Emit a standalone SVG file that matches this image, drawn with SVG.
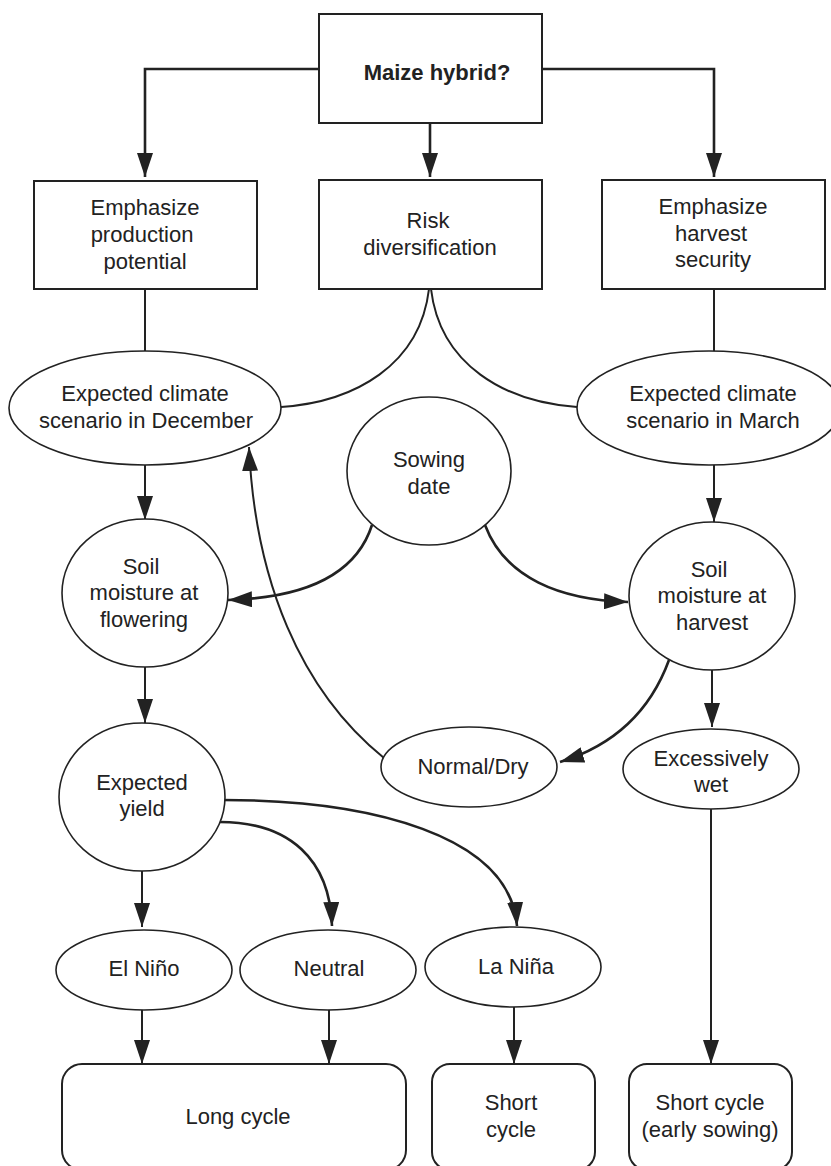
<svg xmlns="http://www.w3.org/2000/svg" width="831" height="1166" viewBox="0 0 831 1166">
  <defs>
    <style>
      .box { fill: #fff; stroke: #222; stroke-width: 2; }
      .ell { fill: #fff; stroke: #222; stroke-width: 1.6; }
      .lbl { font-family: "Liberation Sans", Arial, sans-serif; font-size: 22px; fill: #222; text-anchor: middle; }
      .bold { font-weight: bold; }
      .wire { fill: none; stroke: #222; stroke-width: 2.6; }
      .thin { fill: none; stroke: #222; stroke-width: 2; }
      .arrow { marker-end: url(#head); }
    </style>
    <marker id="head" viewBox="0 0 24 16" refX="24" refY="8" markerWidth="24" markerHeight="16" markerUnits="userSpaceOnUse" orient="auto">
      <path d="M0,0 L24,8 L0,16 z" fill="#222"/>
    </marker>
  </defs>
  <rect width="831" height="1166" fill="#fff"/>

  <!-- connectors -->
  <g id="connectors">
    <path class="wire arrow" d="M319 69 H145 V177"/>
    <path class="wire arrow" d="M542 69 H714 V177"/>
    <path class="wire arrow" d="M430 123 V177"/>
    <path class="thin" d="M145 289 V352"/>
    <path class="thin" d="M714 289 V352"/>
    <path class="thin" d="M429 289 C420 365 355 402 281 407"/>
    <path class="thin" d="M431 289 C440 365 505 402 577 407"/>
    <path class="thin arrow" d="M145 465 V520"/>
    <path class="thin arrow" d="M714 465 V522"/>
    <path class="wire arrow" d="M372 525 C355 578 300 598 228 600"/>
    <path class="wire arrow" d="M485 525 C505 578 560 600 628 602"/>
    <path class="thin arrow" d="M384 758 C300 690 255 580 249 447"/>
    <path class="wire arrow" d="M669 660 C650 712 612 746 560 762"/>
    <path class="thin arrow" d="M712 670 V727"/>
    <path class="thin arrow" d="M711 808 V1064"/>
    <path class="thin arrow" d="M145 667 V723"/>
    <path class="wire arrow" d="M223 800 C370 800 510 835 517 926"/>
    <path class="wire arrow" d="M220 822 C290 822 330 860 332 926"/>
    <path class="thin arrow" d="M142 871 V927"/>
    <path class="thin arrow" d="M142 1010 V1064"/>
    <path class="thin arrow" d="M329 1010 V1064"/>
    <path class="thin arrow" d="M514 1007 V1064"/>
  </g>

  <!-- decision -->
  <g id="maize-hybrid">
    <rect class="box" x="319" y="14" width="223" height="109"/>
    <text class="lbl bold" x="437" y="80">Maize hybrid?</text>
  </g>

  <!-- strategies -->
  <g id="production-potential">
    <rect class="box" x="34" y="181" width="223" height="108"/>
    <text class="lbl" x="145" y="215">Emphasize</text>
    <text class="lbl" x="142" y="242">production</text>
    <text class="lbl" x="145" y="269">potential</text>
  </g>
  <g id="risk-diversification">
    <rect class="box" x="319" y="180" width="223" height="109"/>
    <text class="lbl" x="428" y="228">Risk</text>
    <text class="lbl" x="430" y="255">diversification</text>
  </g>
  <g id="harvest-security">
    <rect class="box" x="602" y="180" width="223" height="109"/>
    <text class="lbl" x="713" y="214">Emphasize</text>
    <text class="lbl" x="711" y="241">harvest</text>
    <text class="lbl" x="713" y="267">security</text>
  </g>

  <!-- climate scenarios -->
  <g id="climate-december">
    <ellipse class="ell" cx="145" cy="408" rx="136" ry="57"/>
    <text class="lbl" x="145" y="401">Expected climate</text>
    <text class="lbl" x="146" y="428">scenario in December</text>
  </g>
  <g id="climate-march">
    <ellipse class="ell" cx="709" cy="408" rx="132" ry="57"/>
    <text class="lbl" x="713" y="401">Expected climate</text>
    <text class="lbl" x="713" y="428">scenario in March</text>
  </g>
  <g id="sowing-date">
    <ellipse class="ell" cx="429" cy="471" rx="82" ry="74"/>
    <text class="lbl" x="429" y="467">Sowing</text>
    <text class="lbl" x="429" y="494">date</text>
  </g>

  <!-- soil moisture -->
  <g id="moisture-flowering">
    <ellipse class="ell" cx="145" cy="593" rx="83" ry="74"/>
    <text class="lbl" x="141" y="574">Soil</text>
    <text class="lbl" x="144" y="600">moisture at</text>
    <text class="lbl" x="144" y="627">flowering</text>
  </g>
  <g id="moisture-harvest">
    <ellipse class="ell" cx="712" cy="596" rx="83" ry="74"/>
    <text class="lbl" x="709" y="577">Soil</text>
    <text class="lbl" x="712" y="603">moisture at</text>
    <text class="lbl" x="712" y="630">harvest</text>
  </g>
  <g id="normal-dry">
    <ellipse class="ell" cx="469" cy="767" rx="88" ry="40"/>
    <text class="lbl" x="473" y="774">Normal/Dry</text>
  </g>
  <g id="excessively-wet">
    <ellipse class="ell" cx="711" cy="769" rx="88" ry="40"/>
    <text class="lbl" x="711" y="766">Excessively</text>
    <text class="lbl" x="711" y="792">wet</text>
  </g>

  <!-- yield and ENSO phases -->
  <g id="expected-yield">
    <ellipse class="ell" cx="142" cy="797" rx="83" ry="74"/>
    <text class="lbl" x="142" y="790">Expected</text>
    <text class="lbl" x="142" y="816">yield</text>
  </g>
  <g id="el-nino">
    <ellipse class="ell" cx="144" cy="970" rx="88" ry="40"/>
    <text class="lbl" x="144" y="976">El Niño</text>
  </g>
  <g id="neutral">
    <ellipse class="ell" cx="328" cy="970" rx="88" ry="40"/>
    <text class="lbl" x="329" y="976">Neutral</text>
  </g>
  <g id="la-nina">
    <ellipse class="ell" cx="513" cy="967" rx="88" ry="40"/>
    <text class="lbl" x="516" y="974">La Niña</text>
  </g>

  <!-- outcomes -->
  <g id="long-cycle">
    <rect class="box" x="62" y="1064" width="344" height="106" rx="20"/>
    <text class="lbl" x="238" y="1124">Long cycle</text>
  </g>
  <g id="short-cycle">
    <rect class="box" x="432" y="1064" width="163" height="106" rx="18"/>
    <text class="lbl" x="511" y="1110">Short</text>
    <text class="lbl" x="511" y="1137">cycle</text>
  </g>
  <g id="short-cycle-early">
    <rect class="box" x="629" y="1064" width="163" height="106" rx="18"/>
    <text class="lbl" x="710" y="1110">Short cycle</text>
    <text class="lbl" x="710" y="1137">(early sowing)</text>
  </g>
</svg>
